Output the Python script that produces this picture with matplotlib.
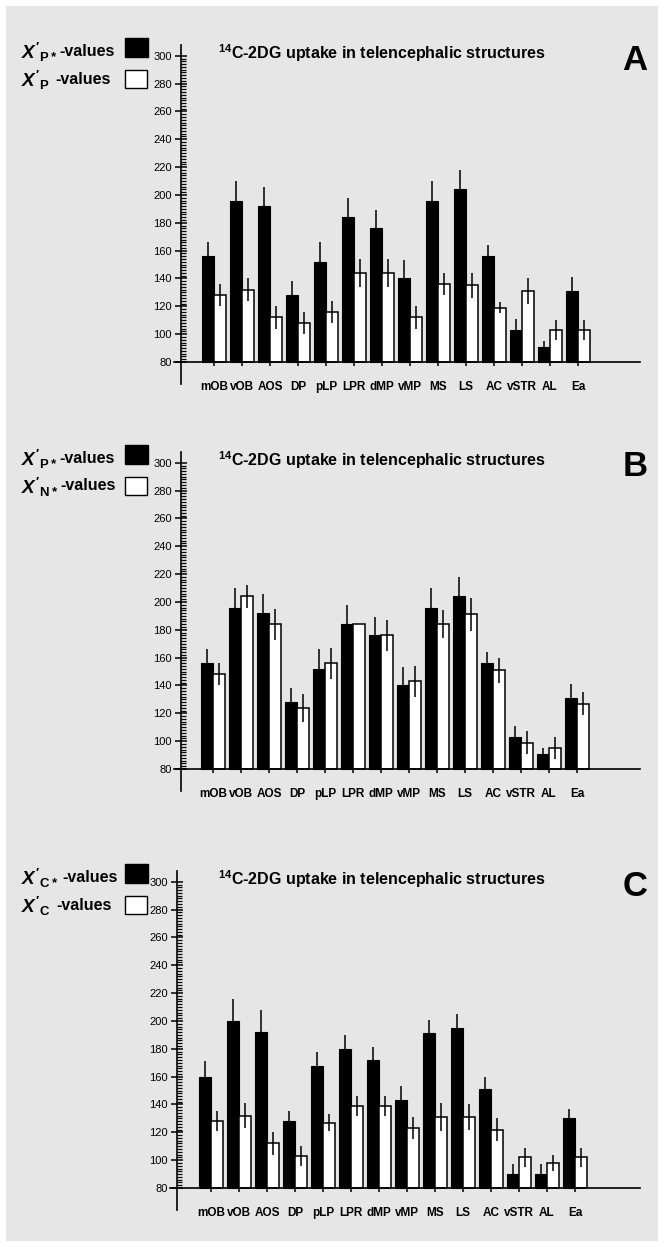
import numpy as np
import matplotlib
matplotlib.use("Agg")
import matplotlib.pyplot as plt
from matplotlib.ticker import FixedLocator
from matplotlib.patches import Rectangle

plt.rcParams['font.family'] = ['Liberation Sans', 'DejaVu Sans']
plt.rcParams['mathtext.fontset'] = 'custom'
plt.rcParams['mathtext.rm'] = 'Liberation Sans:bold'
plt.rcParams['mathtext.it'] = 'Liberation Sans:italic:bold'
plt.rcParams['mathtext.bf'] = 'Liberation Sans:bold'

# ---------------- data ----------------
categories = ["mOB", "vOB", "AOS", "DP", "pLP", "LPR", "dMP", "vMP",
              "MS", "LS", "AC", "vSTR", "AL", "Ea"]

xp_star = [156, 196, 192, 128, 152, 184, 176, 140, 196, 204, 156, 103, 91, 131]
xp_star_err = [10, 14, 14, 10, 14, 14, 13, 13, 14, 14, 8, 8, 4, 10]

xp = [128, 132, 112, 108, 116, 144, 144, 112, 136, 135, 119, 131, 103, 103]
xp_err = [8, 8, 8, 8, 8, 10, 10, 8, 8, 9, 4, 9, 7, 7]

xn_star = [148, 204, 184, 124, 156, 184, 176, 143, 184, 191, 151, 99, 95, 127]
xn_star_err = [8, 8, 11, 10, 11, 0, 11, 11, 10, 12, 9, 8, 8, 8]

xc_star = [160, 200, 192, 128, 168, 180, 172, 143, 191, 195, 151, 90, 90, 130]
xc_star_err = [11, 16, 16, 7, 10, 10, 9, 10, 10, 10, 9, 7, 7, 7]

xc = [128, 132, 112, 103, 127, 139, 139, 123, 131, 131, 122, 102, 98, 102]
xc_err = [7, 9, 8, 7, 6, 7, 7, 8, 10, 9, 8, 7, 6, 7]

major_ticks = list(range(80, 301, 20))
minor_ticks = list(range(80, 301, 2))
title_text = r"$^{\mathbf{14}}$C-2DG uptake in telencephalic structures"

# ---------------- figure ----------------
W, H = 664, 1247
fig = plt.figure(figsize=(W / 100, H / 100), dpi=100)
fig.patch.set_facecolor("white")
fig.patches.append(Rectangle((6 / W, 6 / H), (W - 12) / W, (H - 12) / H,
                             transform=fig.transFigure, facecolor="#e6e6e6",
                             edgecolor="none", zorder=-10))
renderer = fig.canvas.get_renderer()

PX_PER_UNIT = 1.392
GROUP_PX = 28.0
BW = 0.42


def fx(px):
    return px / W


def fy(py):
    return 1 - py / H


def legend_row(yc, sym, suffix, gap):
    t = fig.text(fx(21), fy(yc + 1), sym, fontsize=13.5, fontweight="bold",
                 ha="left", va="center")
    ext = t.get_window_extent(renderer=renderer)
    fig.text(fx(ext.x1 + gap), fy(yc), suffix, fontsize=11.5, fontweight="bold",
             ha="left", va="center")


def panel(y80, x_axis, c0, black, black_err, white, white_err, leg1, leg2, letter):
    ymin, ymax = 64, 308
    bottom_px = y80 + (80 - ymin) * PX_PER_UNIT
    top_px = y80 - (ymax - 80) * PX_PER_UNIT
    left_px = x_axis - 7
    right_px = 640
    ax = fig.add_axes([fx(left_px), fy(bottom_px), (right_px - left_px) / W,
                       (bottom_px - top_px) / H])
    ax.set_facecolor("none")
    x = np.arange(len(categories))
    xl = (left_px - c0) / GROUP_PX
    xr = (right_px - c0) / GROUP_PX
    xaxis_val = (x_axis - c0) / GROUP_PX
    ax.set_xlim(xl, xr)
    ax.set_ylim(ymin, ymax)

    bb = np.array(black)
    ww = np.array(white)
    ax.bar(x - BW / 2, bb - 80, bottom=80, width=BW, color="black",
           edgecolor="black", linewidth=0.8, zorder=2)
    ax.bar(x + BW / 2, ww - 80, bottom=80, width=BW, color="white",
           edgecolor="black", linewidth=1.1, zorder=2)
    ax.errorbar(x - BW / 2, bb, yerr=black_err, fmt="none", ecolor="black",
                elinewidth=1.1, capsize=0, zorder=3)
    ax.errorbar(x + BW / 2, ww, yerr=white_err, fmt="none", ecolor="black",
                elinewidth=1.1, capsize=0, zorder=3)

    for s in ("top", "right"):
        ax.spines[s].set_visible(False)
    ax.spines["left"].set_position(("data", xaxis_val))
    ax.spines["bottom"].set_position(("data", 80))
    ax.spines["left"].set_linewidth(1.2)
    ax.spines["bottom"].set_linewidth(1.2)

    ax.yaxis.set_major_locator(FixedLocator(major_ticks))
    ax.yaxis.set_minor_locator(FixedLocator(minor_ticks))
    ax.tick_params(axis="y", which="major", direction="inout", length=9,
                   width=1.1, labelsize=8, pad=2)
    ax.tick_params(axis="y", which="minor", direction="in", length=3.5, width=0.9)
    ax.set_xticks(x)
    ax.set_xticklabels(categories, fontweight="bold")
    ax.tick_params(axis="x", which="major", direction="out", length=3,
                   width=1.1, labelsize=8.5, pad=11)

    # title and panel letter
    fig.text(fx(218), fy(y80 - 309), title_text, fontsize=11.5,
             fontweight="bold", ha="left", va="center")
    fig.text(fx(635), fy(y80 - 302), letter, fontsize=25,
             fontweight="bold", ha="center", va="center")

    # legend
    legend_row(y80 - 311, leg1[0], leg1[1], leg1[2])
    legend_row(y80 - 283, leg2[0], leg2[1], leg2[2])
    fig.patches.append(Rectangle((fx(125), fy(y80 - 305)), 23 / W, 19 / H,
                                 transform=fig.transFigure, facecolor="black",
                                 edgecolor="black", linewidth=1.0))
    fig.patches.append(Rectangle((fx(125), fy(y80 - 274)), 22 / W, 18 / H,
                                 transform=fig.transFigure, facecolor="white",
                                 edgecolor="black", linewidth=1.0))
    return ax


panel(362, 181, 214, xp_star, xp_star_err, xp, xp_err,
      (r"$X'_{\mathbf{P*}}$", "-values", 2), (r"$X'_{\mathbf{P}}$", "-values", 6), "A")
panel(769, 181, 213, xp_star, xp_star_err, xn_star, xn_star_err,
      (r"$X'_{\mathbf{P*}}$", "-values", 2), (r"$X'_{\mathbf{N*}}$", "-values", 2), "B")
panel(1188, 177, 211, xc_star, xc_star_err, xc, xc_err,
      (r"$X'_{\mathbf{C*}}$", "-values", 4), (r"$X'_{\mathbf{C}}$", "-values", 6), "C")

fig.savefig("out.png", dpi=100, facecolor=fig.get_facecolor())
